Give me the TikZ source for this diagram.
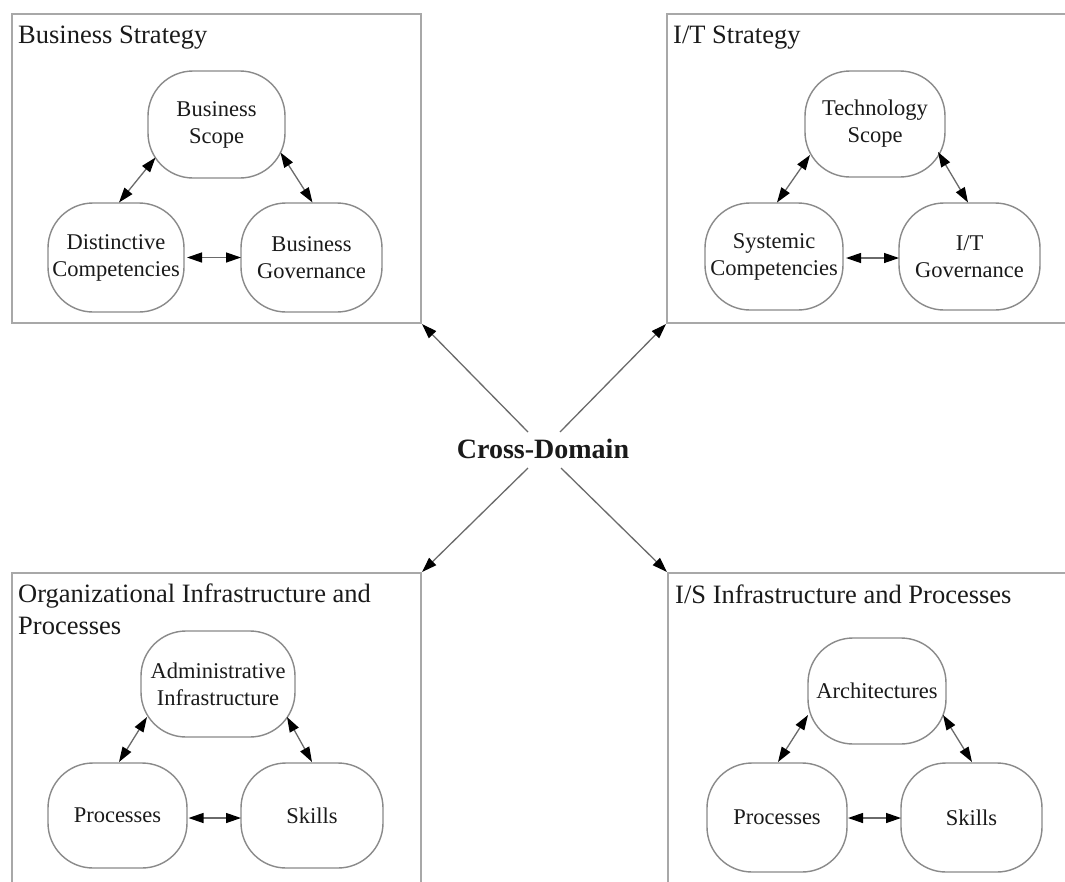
\documentclass[tikz,border=0pt]{standalone}
\usepackage{fontspec}
\setmainfont{Liberation Serif}
\usetikzlibrary{arrows.meta}
\definecolor{boxgray}{HTML}{A8A8A8}
\definecolor{ovalgray}{HTML}{8A8A8A}
\definecolor{linegray}{HTML}{6A6A6A}
\definecolor{inkcol}{HTML}{1A1A1A}
\tikzset{
  domainbox/.style={draw=boxgray, line width=2pt, rectangle, inner sep=0pt},
  domaintitle/.style={inner sep=0pt, text=inkcol, font=\fontsize{26.5}{32}\selectfont, align=left},
  oval/.style={draw=ovalgray, line width=1.4pt, rectangle, rounded corners=45pt,
    inner sep=0pt, text=inkcol, align=center, font=\fontsize{22.5}{27}\selectfont},
  tiphead/.tip={Triangle[length=15pt,width=10pt,color=black]},
  link/.style={draw=linegray, line width=1.3pt, tiphead-tiphead},
  crosslink/.style={draw=linegray, line width=1.3pt, -tiphead},
  crosstitle/.style={inner sep=0pt, text=inkcol, font=\fontsize{28}{32}\selectfont\bfseries}
}
\begin{document}
\begin{tikzpicture}[x=1pt,y=-1pt]
\clip (0,0) rectangle (1065,881);
\fill[white] (0,0) rectangle (1065,881);

% domain boxes
\node[domainbox, minimum width=409pt, minimum height=309pt] (tl) at (216.5,168.5) {};
\node[domainbox, minimum width=413pt, minimum height=309pt] (tr) at (873.5,168.5) {};
\node[domainbox, minimum width=409pt, minimum height=327pt] (bl) at (216.5,736.5) {};
\node[domainbox, minimum width=412pt, minimum height=327pt] (br) at (874,736.5) {};

% titles
\node[domaintitle, anchor=base west] (tlt) at (18,43) {Business Strategy};
\node[domaintitle, anchor=base west] (trt) at (673,43) {I/T Strategy};
\node[domaintitle, anchor=north west] (blt) at (18,584) {Organizational Infrastructure and\\Processes};
\node[domaintitle, anchor=base west] (brt) at (675,603) {I/S Infrastructure and Processes};

% Business Strategy
\node[oval, minimum width=137pt, minimum height=107pt] (bs) at (216.5,124.5) {Business\\Scope};
\node[oval, minimum width=136pt, minimum height=109pt] (dc) at (116,257.5) {Distinctive\\Competencies};
\node[oval, minimum width=141pt, minimum height=109pt] (bg) at (311.5,257.5) {Business\\Governance};
\draw[link] ([shift={(-61,33)}]bs.center) -- ([shift={(3,-55)}]dc.center);
\draw[link] ([shift={(64,28)}]bs.center) -- ([shift={(1,-55)}]bg.center);
\draw[link] ([shift={(71,0)}]dc.center) -- ([shift={(-70.5,0)}]bg.center);

% I/T Strategy
\node[oval, minimum width=140pt, minimum height=106pt] (ts) at (875,124) {Technology\\Scope};
\node[oval, minimum width=138pt, minimum height=107pt] (sc) at (774,256.5) {Systemic\\Competencies};
\node[oval, minimum width=141pt, minimum height=107pt] (ig) at (969.5,256.5) {I/T\\Governance};
\draw[link] ([shift={(-65,31)}]ts.center) -- ([shift={(3,-54)}]sc.center);
\draw[link] ([shift={(63,28)}]ts.center) -- ([shift={(-1.5,-54)}]ig.center);
\draw[link] ([shift={(72,1.5)}]sc.center) -- ([shift={(-70.5,1.5)}]ig.center);

% Organizational Infrastructure and Processes
\node[oval, minimum width=154pt, minimum height=106pt] (ai) at (218,684) {Administrative\\Infrastructure};
\node[oval, minimum width=139pt, minimum height=105pt] (pr) at (117.5,815.5) {Processes};
\node[oval, minimum width=142pt, minimum height=105pt] (sk) at (312,815.5) {Skills};
\draw[link] ([shift={(-71,33)}]ai.center) -- ([shift={(1.5,-53.5)}]pr.center);
\draw[link] ([shift={(69,33)}]ai.center) -- ([shift={(0,-53.5)}]sk.center);
\draw[link] ([shift={(71,2.5)}]pr.center) -- ([shift={(-71,2.5)}]sk.center);

% I/S Infrastructure and Processes
\node[oval, minimum width=138pt, minimum height=106pt] (ar) at (877,691) {Architectures};
\node[oval, minimum width=140pt, minimum height=109pt] (pq) at (777,817.5) {Processes};
\node[oval, minimum width=141pt, minimum height=109pt] (sq) at (971.5,817.5) {Skills};
\draw[link] ([shift={(-69,24)}]ar.center) -- ([shift={(1,-55.5)}]pq.center);
\draw[link] ([shift={(66,24)}]ar.center) -- ([shift={(0.5,-55.5)}]sq.center);
\draw[link] ([shift={(71,0.5)}]pq.center) -- ([shift={(-70.5,0.5)}]sq.center);

% Cross-Domain
\node[crosstitle] (cd) at (543,449) {Cross-Domain};
\draw[crosslink] ([shift={(-15,-17)}]cd.center) -- (tl.south east);
\draw[crosslink] ([shift={(17,-17)}]cd.center) -- (tr.south west);
\draw[crosslink] ([shift={(-15,19)}]cd.center) -- (bl.north east);
\draw[crosslink] ([shift={(18,19)}]cd.center) -- (br.north west);
\end{tikzpicture}
\end{document}
